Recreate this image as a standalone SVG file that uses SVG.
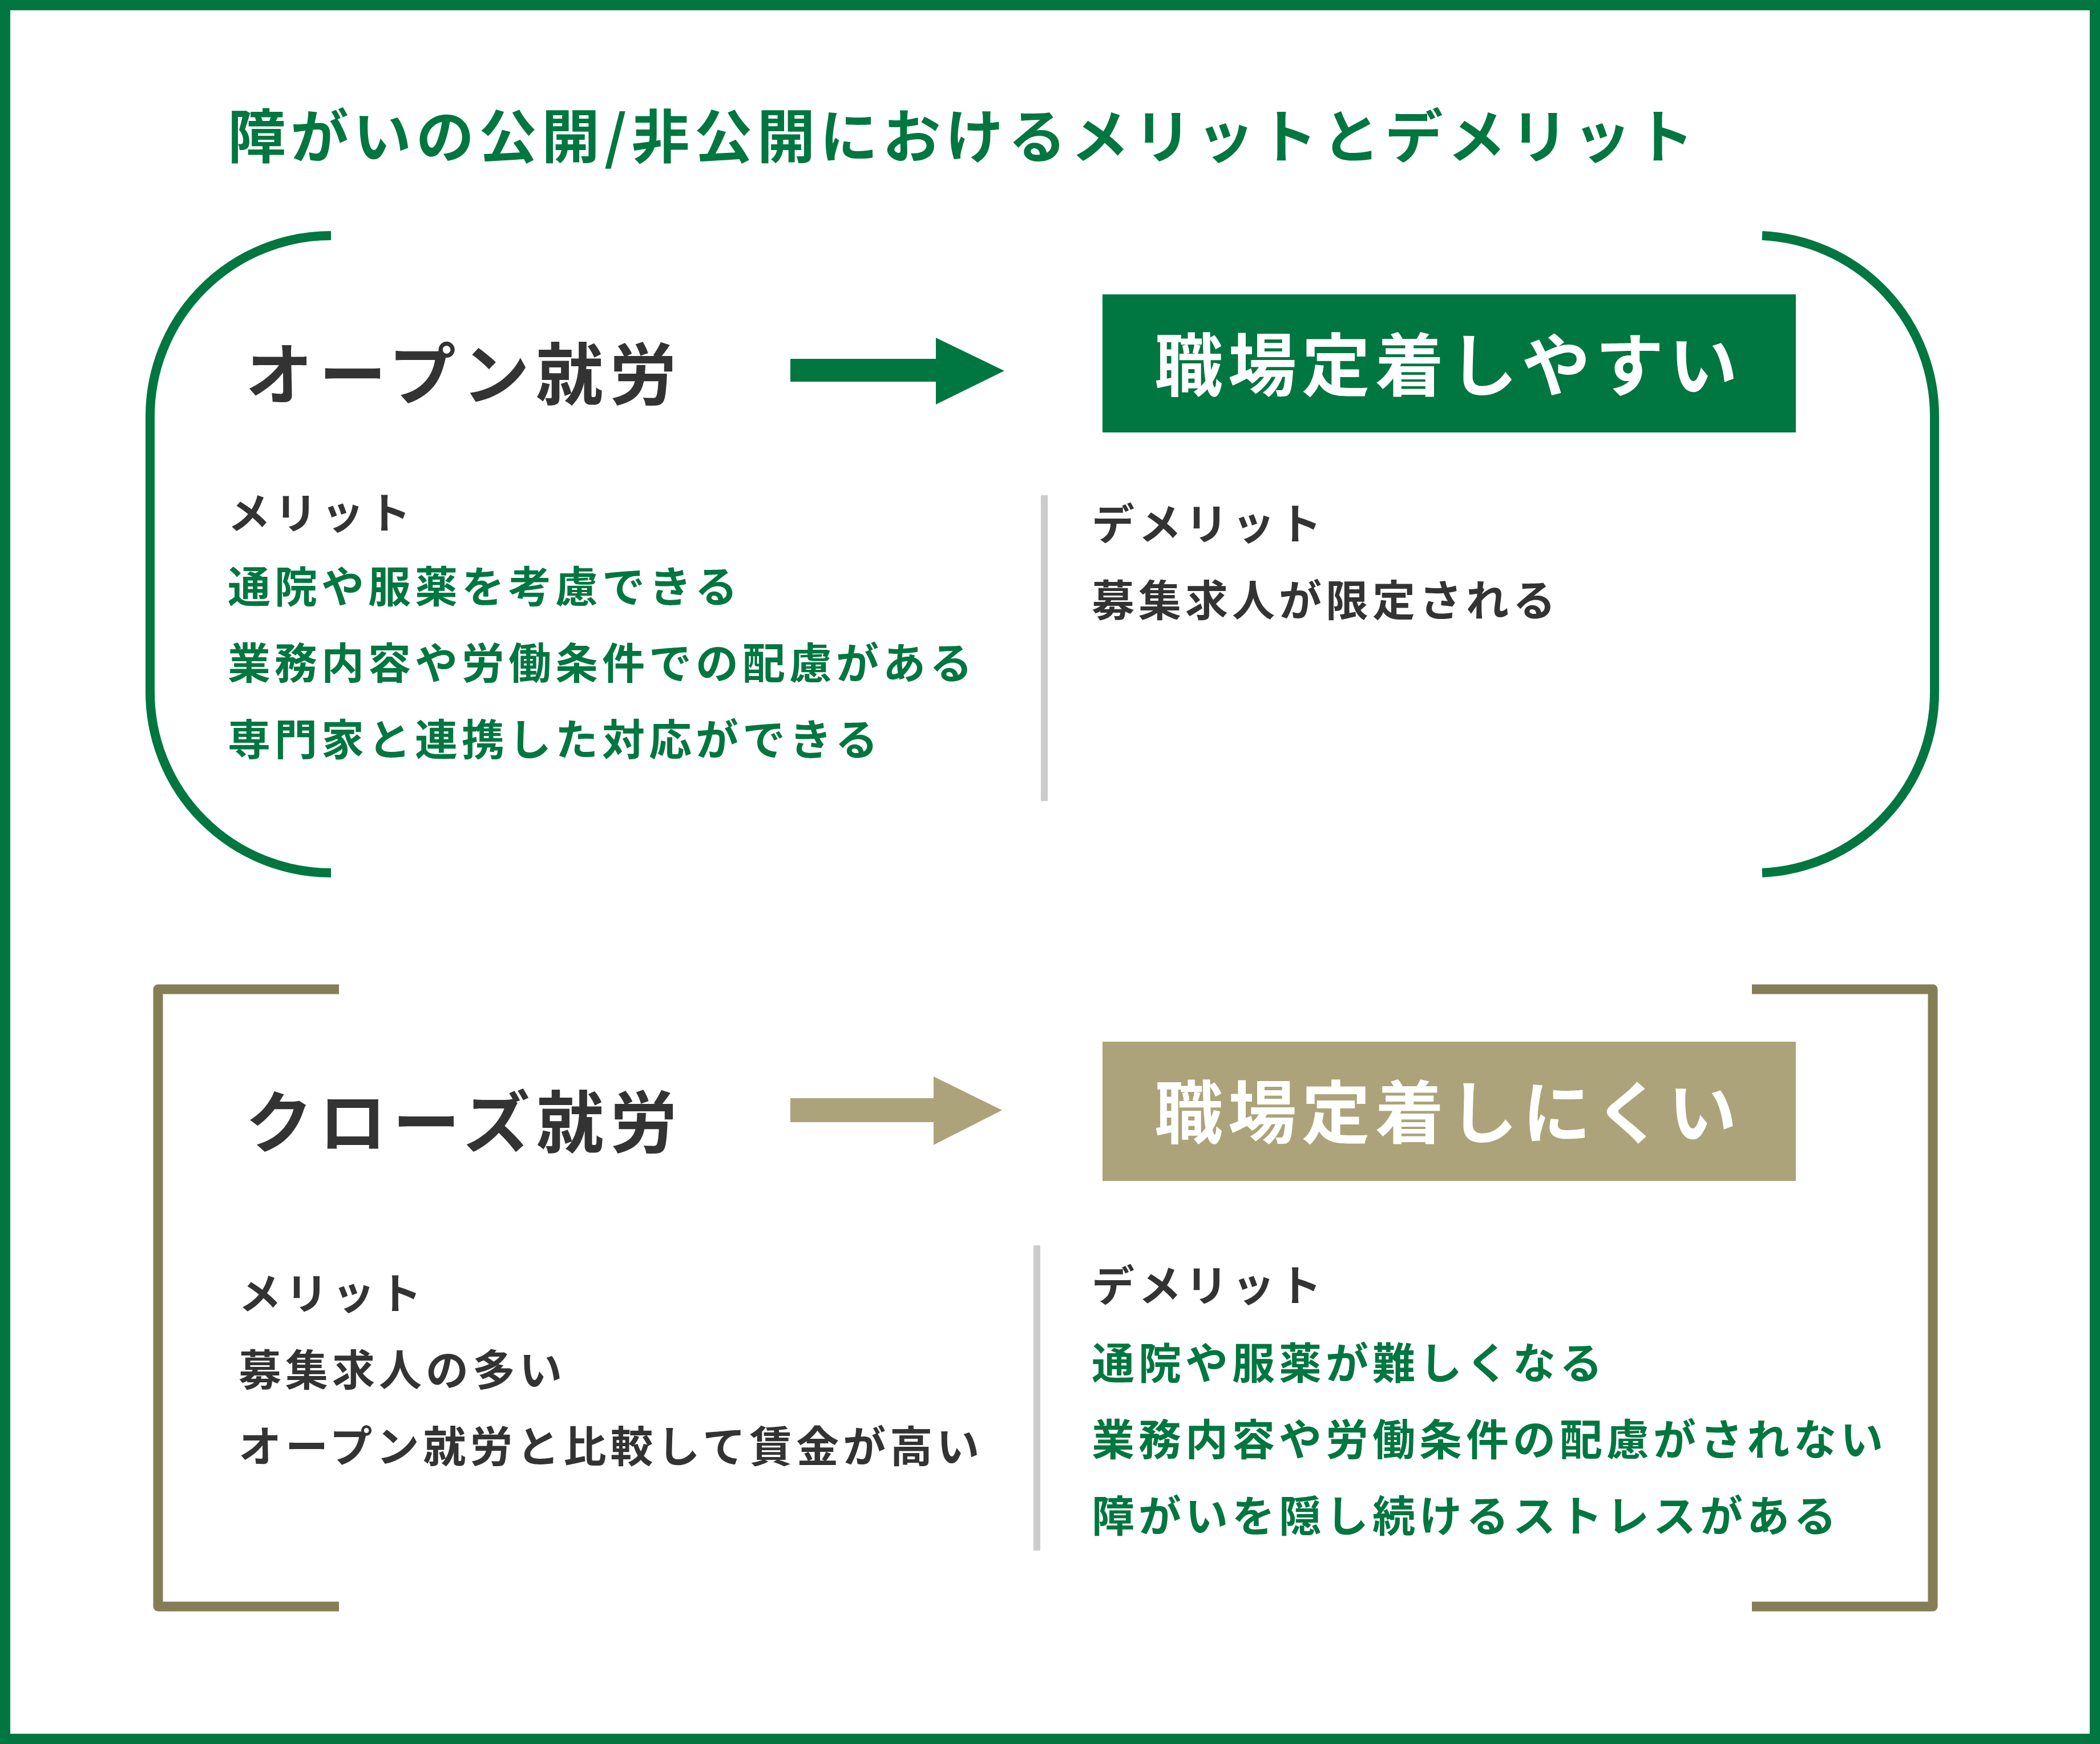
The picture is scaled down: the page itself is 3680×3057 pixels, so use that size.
<svg xmlns="http://www.w3.org/2000/svg" width="3680" height="3057" viewBox="0 0 3680 3057">
<style>
text{font-family:"Noto Sans CJK JP","Noto Sans",sans-serif;font-weight:bold}
.t{font-size:102px;fill:#007640;letter-spacing:8px}
.h{font-size:118px;fill:#333;letter-spacing:11px}
.b{font-size:120px;fill:#fff;letter-spacing:9px}
.s{font-size:75px;letter-spacing:7px}
.g{fill:#007640}.d{fill:#333}
.gl{fill:none;stroke:#007640;stroke-width:16}
.ol{fill:none;stroke:#857d55;stroke-width:17;stroke-linejoin:round}
.dv{stroke:#ccc;stroke-width:12}
</style>
<rect x="9" y="9" width="3662" height="3039" fill="#fff" stroke="#007640" stroke-width="18"/>
<text class="t" x="399" y="277">障がいの公開/非公開におけるメリットとデメリット</text>
<g id="connectors">
<path class="gl" d="M580,413 A317,317 0 0 0 263,730 V1213 A317,317 0 0 0 580,1530"/>
<path class="gl" d="M3088,413 A317,317 0 0 1 3390,730 V1213 A317,317 0 0 1 3088,1530"/>
<path class="ol" d="M594,1734 H277 V2816 H594"/>
<path class="ol" d="M3070,1734 H3387 V2816 H3070"/>
<path fill="#007640" d="M1385,629 H1640 V592 L1760,650 L1640,709 V669 H1385Z"/>
<path fill="#aca37a" d="M1385,1925 H1636 V1887 L1756,1946 L1636,2007 V1967 H1385Z"/>
<line class="dv" x1="1830" y1="868" x2="1830" y2="1404"/>
<line class="dv" x1="1817" y1="2183" x2="1817" y2="2718"/>
</g>
<g id="open"><text class="h" x="430" y="700">オープン就労</text></g>
<g id="open-result"><rect x="1932" y="516" width="1215" height="242" fill="#007640"/><text class="b" x="2023" y="685">職場定着しやすい</text></g>
<g id="open-merit"><text class="s d" x="399" y="927">メリット</text>
<text class="s g" x="399" y="1056">通院や服薬を考慮できる</text>
<text class="s g" x="399" y="1190">業務内容や労働条件での配慮がある</text>
<text class="s g" x="399" y="1324">専門家と連携した対応ができる</text></g>
<g id="open-demerit"><text class="s d" x="1913" y="946">デメリット</text>
<text class="s d" x="1913" y="1080">募集求人が限定される</text></g>
<g id="close"><text class="h" x="430" y="2011">クローズ就労</text></g>
<g id="close-result"><rect x="1932" y="1826" width="1215" height="244" fill="#aca37a"/><text class="b" x="2023" y="1995">職場定着しにくい</text></g>
<g id="close-merit"><text class="s d" x="418" y="2295">メリット</text>
<text class="s d" x="418" y="2429">募集求人の多い</text>
<text class="s d" x="418" y="2563">オープン就労と比較して賃金が高い</text></g>
<g id="close-demerit"><text class="s d" x="1913" y="2281">デメリット</text>
<text class="s g" x="1913" y="2417">通院や服薬が難しくなる</text>
<text class="s g" x="1913" y="2551">業務内容や労働条件の配慮がされない</text>
<text class="s g" x="1913" y="2685">障がいを隠し続けるストレスがある</text></g>
</svg>
